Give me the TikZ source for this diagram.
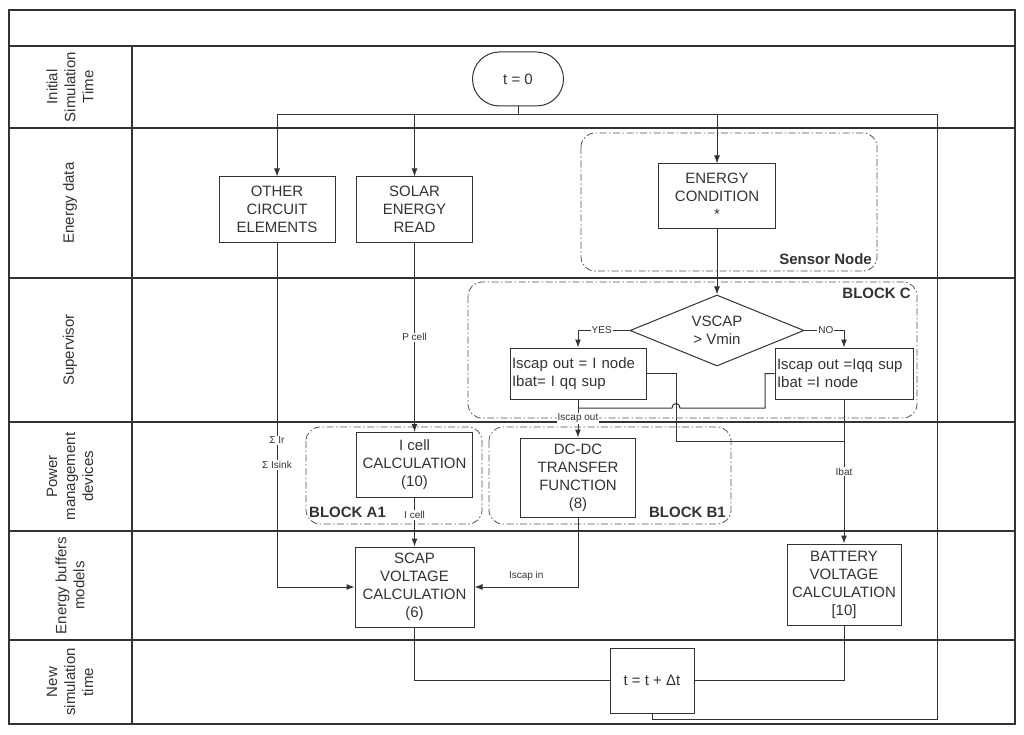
\documentclass[tikz,border=0pt]{standalone}
\usepackage{fontspec}
\setmainfont{Liberation Sans}
\usetikzlibrary{shapes.geometric,arrows.meta}
\definecolor{ink}{HTML}{333333}
\tikzset{
  lane/.style={draw=ink, line width=1.4pt},
  box/.style={draw=ink, line width=1pt, align=center, inner sep=2pt, font=\fontsize{15}{18}\selectfont, text=ink},
  grp/.style={draw=ink!85, line width=0.8pt, rounded corners=14pt, dash pattern=on 7pt off 2.5pt on 1.5pt off 2.5pt},
  wire/.style={draw=ink, line width=1pt},
  arr/.style={-{Latex[length=8pt,width=6pt]}},
  lbl/.style={font=\fontsize{10}{12}\selectfont, fill=white, inner sep=1pt, text=ink},
  tag/.style={font=\fontsize{15}{18}\selectfont\bfseries, inner sep=1pt, text=ink},
  lanetxt/.style={rotate=90, align=center, font=\fontsize{15}{18}\selectfont, text=ink}
}
\begin{document}
\begin{tikzpicture}[x=1pt,y=-1pt]
\useasboundingbox (0,0) rectangle (1024,735);
% swim lanes
\draw[lane] (9,10) rectangle (1015,724);
\draw[lane] (9,46) -- (1015,46);
\foreach \y in {128,278,422,531,640} \draw[lane] (9,\y) -- (1015,\y);
\draw[lane] (132,46) -- (132,724);
\node[lanetxt] (l1) at (70,87) {Initial\\Simulation\\Time};
\node[lanetxt] (l2) at (70,203) {Energy data};
\node[lanetxt] (l3) at (70,350) {Supervisor};
\node[lanetxt] (l4) at (70,476.5) {Power\\management\\devices};
\node[lanetxt] (l5) at (70,585.5) {Energy buffers\\models};
\node[lanetxt] (l6) at (70,682) {New\\simulation\\time};
% groups
\draw[grp] (581,133) rectangle (877,271);
\node[tag, anchor=base east] (sn) at (873,264) {Sensor Node};
\draw[grp] (468,282) rectangle (917,418);
\node[tag, anchor=base east] (bc) at (912,298.5) {BLOCK C};
\draw[grp] (306,427) rectangle (482,524);
\node[tag, anchor=base west] (ba) at (308,517) {BLOCK A1};
\draw[grp] (489,427) rectangle (731,524);
\node[tag, anchor=base east] (bb) at (727,517) {BLOCK B1};
% blocks
\node[box, rounded corners=27pt, minimum width=91pt, minimum height=54pt] (t0) at (518,79) {t = 0};
\node[box, minimum width=116pt, minimum height=65pt] (oth) at (277,209.5) {OTHER\\CIRCUIT\\ELEMENTS};
\node[box, minimum width=116pt, minimum height=65pt] (sol) at (414.5,209.5) {SOLAR\\ENERGY\\READ};
\node[box, minimum width=117pt, minimum height=65pt] (econd) at (717,196.5) {ENERGY\\CONDITION\\*};
\node[box, diamond, aspect=2.45, inner sep=0pt, minimum width=174pt, minimum height=71pt] (vs) at (717,330.5) {VSCAP\\> Vmin};
\node[box, align=left, text width=132pt, minimum height=51pt] (sl) at (578,373.5) {Iscap out = I node\\Ibat= I qq sup};
\node[box, align=left, text width=134pt, minimum height=51pt] (sr) at (844,373.5) {Iscap out =Iqq sup\\Ibat =I node};
\node[box, minimum width=116pt, minimum height=65pt] (icell) at (414.5,465) {I cell\\CALCULATION\\(10)};
\node[box, minimum width=115pt, minimum height=79pt] (dcdc) at (578,477.5) {DC-DC\\TRANSFER\\FUNCTION\\(8)};
\node[box, minimum width=119pt, minimum height=80pt] (scap) at (414.5,587) {SCAP\\VOLTAGE\\CALCULATION\\(6)};
\node[box, minimum width=114pt, minimum height=81pt] (bat) at (844,584.5) {BATTERY\\VOLTAGE\\CALCULATION\\{[10]}};
\node[box, minimum width=84pt, minimum height=65pt] (tstep) at (652,680.5) {t = t + Δt};
% junctions
\coordinate (bus) at (518,115);
\coordinate (lpb) at (937,719);
\coordinate (x1) at (676,441);
\coordinate (x2) at (765,408);
\coordinate (hopr) at (680,408);
\coordinate (hopl) at (672,408);
% connectors
\draw[wire] (t0) -- (bus);
\draw[wire,arr] (bus) -| (oth);
\draw[wire,arr] (bus) -| (sol);
\draw[wire,arr] (bus) -| (econd);
\draw[wire] (tstep) |- (lpb) |- (bus);
\draw[wire,arr] (econd) -- (vs);
\draw[wire,arr] (vs.west) -| node[lbl, pos=0.27] {YES} (sl);
\draw[wire,arr] (vs.east) -| node[lbl, pos=0.27] {NO} (sr);
\draw[wire,arr] (sl) -- node[lbl] {Iscap out} (dcdc);
\draw[wire,arr] (sr) -- node[lbl] {Ibat} (bat);
\draw[wire] (sl.east) -| (x1) -- (x1 -| bat);
\draw[wire] (sr.west) -| (x2) -- (hopr) .. controls +(0,-6) and +(0,-6) .. (hopl) -- (x2 -| sl);
\draw[wire,arr] (sol) -- node[lbl] {P cell} (icell);
\draw[wire,arr] (icell) -- node[lbl, pos=0.35] {I cell} (scap);
\draw[wire,arr] (oth) |- node[lbl, pos=0.287] {Σ Ir} node[lbl, pos=0.323] {Σ Isink} (scap);
\draw[wire,arr] (dcdc) |- node[font=\fontsize{10}{12}\selectfont, text=ink, above=3pt, pos=0.75] {Iscap in} (scap);
\draw[wire] (scap) |- (tstep);
\draw[wire] (bat) |- (tstep);
\end{tikzpicture}
\end{document}
